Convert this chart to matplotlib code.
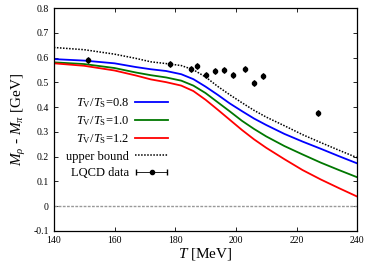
import matplotlib
matplotlib.use("Agg")
import matplotlib.pyplot as plt
from matplotlib.legend_handler import HandlerErrorbar
from matplotlib.container import ErrorbarContainer

plt.rcParams['font.family'] = ['Liberation Serif', 'DejaVu Serif']
plt.rcParams['mathtext.fontset'] = 'custom'
plt.rcParams['mathtext.it'] = 'Liberation Serif:italic'
plt.rcParams['mathtext.rm'] = 'Liberation Serif'

# curves
T_curve = [140, 150, 160, 167, 172, 177, 182, 186, 190, 194, 198, 202, 206,
           210, 216, 222, 228, 234, 240]
blue = [0.594, 0.588, 0.577, 0.562, 0.553, 0.546, 0.533, 0.513, 0.483, 0.450,
        0.415, 0.384, 0.354, 0.328, 0.292, 0.261, 0.232, 0.202, 0.173]
green = [0.581, 0.574, 0.558, 0.540, 0.529, 0.520, 0.507, 0.487, 0.457, 0.420,
         0.383, 0.345, 0.312, 0.282, 0.243, 0.209, 0.176, 0.146, 0.117]
red = [0.577, 0.567, 0.548, 0.528, 0.512, 0.501, 0.487, 0.465, 0.430, 0.390,
       0.349, 0.308, 0.270, 0.236, 0.190, 0.146, 0.108, 0.073, 0.039]
upper = [0.641, 0.632, 0.614, 0.597, 0.583, 0.576, 0.568, 0.551, 0.522, 0.484,
         0.450, 0.418, 0.387, 0.360, 0.325, 0.289, 0.257, 0.226, 0.196]

# LQCD points
T_lqcd = [151.1, 178.2, 185.2, 187.2, 190.2, 193.1, 196.1, 199.1, 203.1, 206.1, 209.1, 227.2]
m_lqcd = [0.591, 0.575, 0.555, 0.565, 0.528, 0.546, 0.549, 0.528, 0.555, 0.497, 0.527, 0.376]

fig = plt.figure(figsize=(3.74, 2.61), dpi=100)
ax = fig.add_axes([0.144, 0.115, 0.811, 0.854])

ax.axhline(0, color='#999999', lw=1.0, ls=(0, (2, 1)))
ax.plot(T_curve, blue, color='#0000ff', lw=1.3, label=r'$T_{\rm V}/T_{\rm S}$=0.8')
ax.plot(T_curve, green, color='#007700', lw=1.3, label=r'$T_{\rm V}/T_{\rm S}$=1.0')
ax.plot(T_curve, red, color='#ff0000', lw=1.3, label=r'$T_{\rm V}/T_{\rm S}$=1.2')
ax.plot(T_curve, upper, color='black', lw=1.1, ls=(0, (1, 1)), label='upper bound')
ax.errorbar(T_lqcd, m_lqcd, xerr=0, fmt='o', color='black', ms=3,
            elinewidth=0.6, capsize=2, label='LQCD data')

ax.set_xlim(140, 240)
ax.set_ylim(-0.1, 0.8)
ax.set_xticks([140, 160, 180, 200, 220, 240])
ax.set_yticks([-0.1, 0, 0.1, 0.2, 0.3, 0.4, 0.5, 0.6, 0.7, 0.8])
ax.set_yticklabels(['-0.1', '0', '0.1', '0.2', '0.3', '0.4', '0.5', '0.6', '0.7', '0.8'])
ax.tick_params(direction='in', top=True, right=True, labelsize=7, length=3, width=0.6)
for s in ax.spines.values():
    s.set_linewidth(0.9)

ax.set_xlabel(r'$T$ [MeV]', fontsize=11, labelpad=1)
ax.set_ylabel(r'$M_\rho$ - $M_\pi$ [GeV]', fontsize=11, labelpad=4)

ax.legend(loc='upper right', bbox_to_anchor=(0.376, 0.605), frameon=False,
          markerfirst=False, fontsize=9, borderpad=0, borderaxespad=0,
          handlelength=2.6, handletextpad=0.5, labelspacing=0.35,
          handler_map={ErrorbarContainer: HandlerErrorbar(xerr_size=1.25)})

fig.savefig('out.png', dpi=100)
